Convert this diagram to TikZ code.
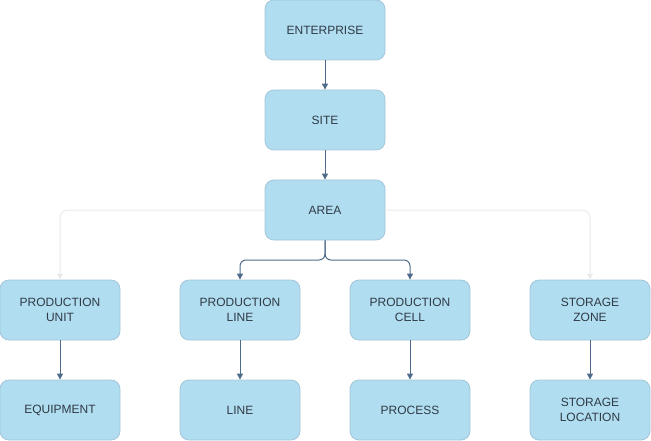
\documentclass[tikz,border=0pt]{standalone}
\usepackage{fontspec}
\setmainfont{Liberation Sans}
\usetikzlibrary{arrows.meta}
\definecolor{boxfill}{HTML}{B1DDF0}
\definecolor{boxline}{HTML}{A3C6D8}
\definecolor{txt}{HTML}{2F3B45}
\definecolor{arr}{HTML}{4F6B8A}
\definecolor{faint}{HTML}{EAEAEA}
\tikzset{
  box/.style={draw=boxline, fill=boxfill, rounded corners=9pt, minimum width=120pt, minimum height=60pt,
    inner sep=0pt, align=center, text=txt, font=\fontsize{12}{15}\selectfont, line width=0.8pt},
  conn/.style={draw=arr, line width=1pt, -{Triangle[length=6pt,width=6pt]}},
  fconn/.style={draw=faint, line width=1pt, rounded corners=8pt, -{Triangle[length=6pt,width=6pt]}}
}
\begin{document}
\begin{tikzpicture}[x=1pt,y=-1pt]
\useasboundingbox (0,0) rectangle (651,441);
\node[box] (ent) at (325,30) {ENTERPRISE};
\node[box] (site) at (325,120) {SITE};
\node[box] (area) at (325,210) {AREA};
\node[box] (pu) at (60,310) {PRODUCTION\\UNIT};
\node[box] (pl) at (240,310) {PRODUCTION\\LINE};
\node[box] (pc) at (410,310) {PRODUCTION\\CELL};
\node[box] (sz) at (590,310) {STORAGE\\ZONE};
\node[box] (eq) at (60,410) {EQUIPMENT};
\node[box] (ln) at (240,410) {LINE};
\node[box] (pr) at (410,410) {PROCESS};
\node[box] (sl) at (590,410) {STORAGE\\LOCATION};
\draw[conn] (ent) -- (site);
\draw[conn] (site) -- (area);
\draw[fconn] (area.west) -| (pu.north);
\draw[fconn] (area.east) -| (sz.north);
\draw[conn, rounded corners=6pt] (area.south) |- (325,260) -| (pl.north);
\draw[conn, rounded corners=6pt] (area.south) |- (325,260) -| (pc.north);
\draw[conn] (pu) -- (eq);
\draw[conn] (pl) -- (ln);
\draw[conn] (pc) -- (pr);
\draw[conn] (sz) -- (sl);
\end{tikzpicture}
\end{document}
